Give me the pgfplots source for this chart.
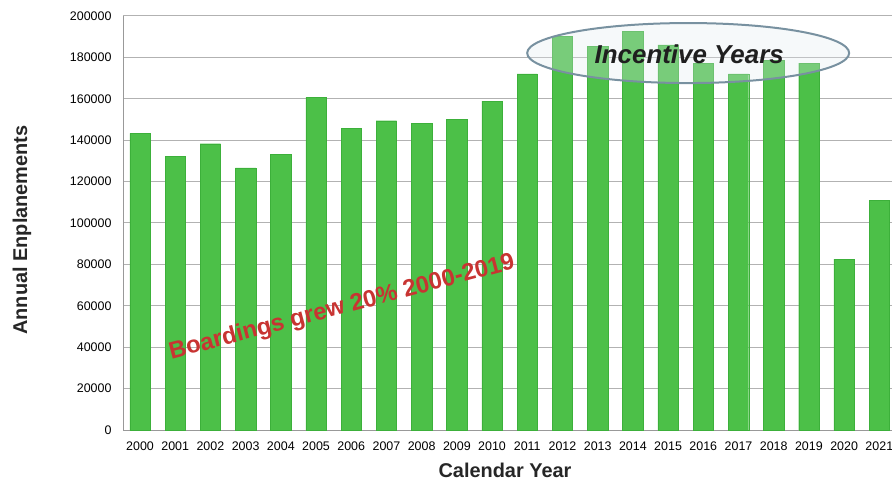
\documentclass[border=0pt]{standalone}
\usepackage{fontspec}
\setmainfont{Liberation Sans}
\usepackage{pgfplots}
\pgfplotsset{compat=1.18}
\definecolor{bargreen}{RGB}{76,192,72}
\definecolor{bargreenedge}{RGB}{60,176,58}
\definecolor{gridgray}{RGB}{178,178,178}
\definecolor{notered}{RGB}{200,52,50}
\definecolor{ovaledge}{RGB}{120,145,160}
\definecolor{ovalfill}{RGB}{225,234,240}

% Annual enplanements by calendar year
\pgfplotstableread{
idx year  enpl
0   2000  143300
1   2001  132300
2   2002  138300
3   2003  126600
4   2004  133300
5   2005  160700
6   2006  145700
7   2007  149400
8   2008  148200
9   2009  150100
10  2010  158900
11  2011  172000
12  2012  190000
13  2013  185200
14  2014  192700
15  2015  186000
16  2016  177100
17  2017  172000
18  2018  178700
19  2019  177200
20  2020  82600
21  2021  111100
}\enpltable

\begin{document}
\begin{tikzpicture}
\path[use as bounding box] (0bp,0bp) rectangle (892bp,485bp);
\begin{axis}[
  at={(123bp,55bp)}, anchor=south west,
  scale only axis, width=769bp, height=414bp,
  ybar, bar width=0.58,
  xmin=-0.483, xmax=21.36,
  ymin=0, ymax=200000,
  ytick={0,20000,...,200000},
  xtick={0,...,21},
  xticklabels={2000,2001,2002,2003,2004,2005,2006,2007,2008,2009,2010,2011,2012,2013,2014,2015,2016,2017,2018,2019,2020,2021},
  /pgf/number format/assume math mode=true,
  /pgf/number format/fixed,
  /pgf/number format/1000 sep={},
  scaled y ticks=false,
  major tick length=0pt,
  tick label style={font=\fontsize{12.5}{14}\selectfont, text=black},
  yticklabel style={xshift=-8bp},
  xticklabel style={yshift=-8bp},
  ymajorgrids, major grid style={gridgray, line width=1bp},
  axis lines*=left,
  axis line style={-, gray!80, line width=1bp},
  clip=false,
]
\addplot[draw=bargreenedge, line width=0.4bp, fill=bargreen] table[x=idx, y=enpl] {\enpltable};

% highlight of the incentive period
\draw[ovaledge, line width=2bp, fill=ovalfill, fill opacity=0.3]
  (axis cs:15.57,182100) ellipse [x radius=161bp, y radius=30bp];
\node[font=\fontsize{26}{28}\selectfont\bfseries\itshape, text=black!88]
  at (axis cs:15.6,181300) {Incentive Years};

\node[rotate=14.8, font=\fontsize{24}{26}\selectfont\bfseries, text=notered]
  at (axis cs:5.74,59000) {Boardings grew 20\% 2000-2019};
\end{axis}

\node[rotate=90, font=\fontsize{20}{22}\selectfont\bfseries, text=black!85] at (22bp,255bp) {Annual Enplanements};
\node[font=\fontsize{20}{22}\selectfont\bfseries, text=black!85] at (505bp,15bp) {Calendar Year};
\end{tikzpicture}
\end{document}
